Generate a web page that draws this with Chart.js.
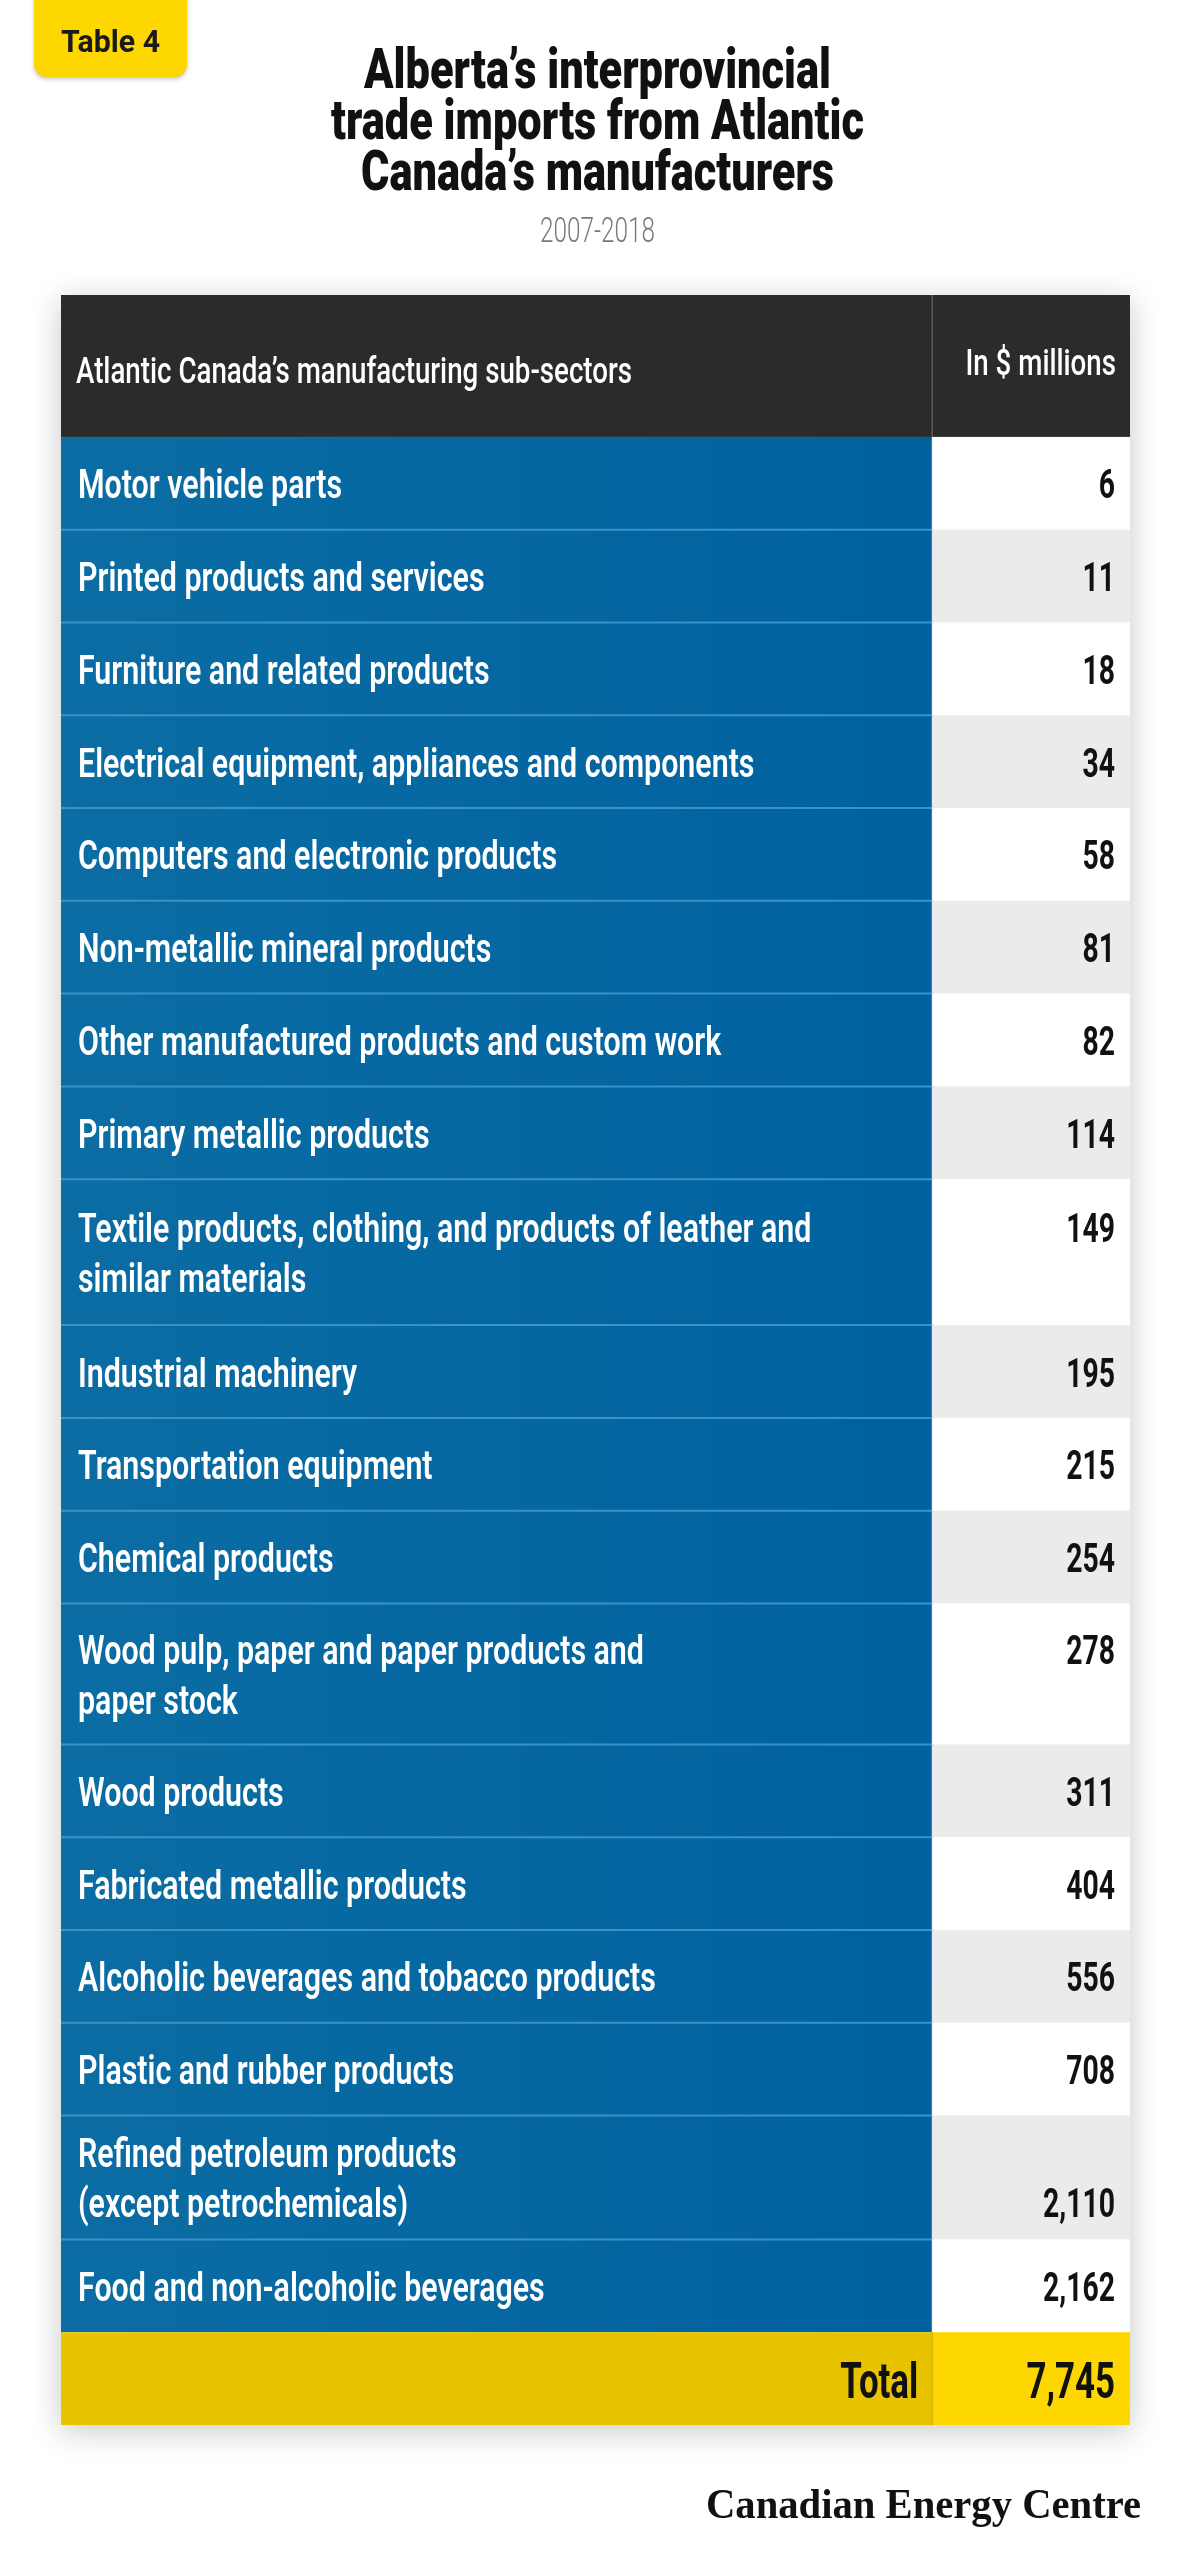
<!DOCTYPE html>
<html>
<head>
<meta charset="utf-8">
<script src="https://cdn.jsdelivr.net/npm/chart.js@4.4.1/dist/chart.umd.min.js"></script>
<style>
  html, body { margin: 0; padding: 0; background: #fff; }
  #wrap { width: 1189px; height: 2560px; position: relative; }
</style>
</head>
<body>
<div id="wrap"><canvas id="tableChart"></canvas></div>
<script>
const tagText = 'Table 4';
const titleLines = ['Alberta’s interprovincial', 'trade imports from Atlantic', 'Canada’s manufacturers'];
const period = '2007-2018';
const columnHeads = ['Atlantic Canada’s manufacturing sub-sectors', 'In $ millions'];
const sectors = [
    'Motor vehicle parts',
    'Printed products and services',
    'Furniture and related products',
    'Electrical equipment, appliances and components',
    'Computers and electronic products',
    'Non-metallic mineral products',
    'Other manufactured products and custom work',
    'Primary metallic products',
    'Textile products, clothing, and products of leather and\nsimilar materials',
    'Industrial machinery',
    'Transportation equipment',
    'Chemical products',
    'Wood pulp, paper and paper products and\npaper stock',
    'Wood products',
    'Fabricated metallic products',
    'Alcoholic beverages and tobacco products',
    'Plastic and rubber products',
    'Refined petroleum products\n(except petrochemicals)',
    'Food and non-alcoholic beverages'
];
const importsMillions = [6, 11, 18, 34, 58, 81, 82, 114, 149, 195, 215, 254, 278, 311, 404, 556, 708, 2110, 2162];
const totalLabel = 'Total';
const totalMillions = 7745;
const sourceName = 'Canadian Energy Centre';

// --- layout (row heights in units of one single-line row) ---
const headSpan = 1.53;
const totalSpan = 1;
const rowSpan = [1, 1, 1, 1, 1, 1, 1, 1, 1.573, 1, 1, 1, 1.519, 1, 1, 1, 1, 1.336, 1];
const valueOnLastLine = sectors.map(s => s.startsWith('Refined'));
const splitAt = 0.815;
const lineGap = 50;

const spanSum = headSpan + rowSpan.reduce((a, b) => a + b, 0) + totalSpan;

function squeeze(ctx, text, x, y, font, sx, align, color) {
    ctx.save();
    ctx.font = font;
    ctx.fillStyle = color;
    ctx.textAlign = align;
    ctx.textBaseline = 'alphabetic';
    ctx.translate(x, y);
    ctx.scale(sx, 1);
    ctx.fillText(text, 0, 0);
    ctx.restore();
}

function fitTo(ctx, font, sample, width) {
    ctx.save();
    ctx.font = font;
    let w = ctx.measureText(sample).width;
    ctx.restore();
    return width / w;
}

const fmt = v => v.toLocaleString('en-US');

const tablePlugin = {
    id: 'tablePlugin',
    afterDraw(chart) {
        const ctx = chart.ctx;
        const xs = chart.scales.x, ys = chart.scales.y;
        const L = xs.getPixelForValue(0), D = xs.getPixelForValue(splitAt), R = xs.getPixelForValue(1);
        const py = v => ys.getPixelForValue(v);
        const cw = chart.width;

        const fTag = '700 31px Roboto';
        const fTitle = '900 55px Roboto';
        const fSub = '300 35px Roboto';
        const fHead = '500 36px Roboto';
        const fLabel = '600 40px Roboto';
        const fValue = '700 40px Roboto';
        const fTotal = '700 50px Roboto';
        const fLogo = '700 43px "Liberation Serif"';

        const sTag = fitTo(ctx, fTag, tagText, 99);
        const sTitle = fitTo(ctx, fTitle, titleLines[0], 467);
        const sSub = fitTo(ctx, fSub, period, 115);
        const sHead = fitTo(ctx, fHead, columnHeads[0], 556);
        const sLabel = fitTo(ctx, fLabel, sectors[0], 264);
        const sValue = fitTo(ctx, fValue, fmt(2162), 72);
        const sTotal = fitTo(ctx, fTotal, totalLabel, 78);
        const sLogo = fitTo(ctx, fLogo, sourceName, 435);

        // tag
        ctx.save();
        ctx.shadowColor = 'rgba(0,0,0,0.25)';
        ctx.shadowBlur = 4;
        ctx.shadowOffsetY = 2;
        ctx.fillStyle = '#ffd700';
        ctx.beginPath();
        ctx.roundRect(34, -20, 153, 97, 13);
        ctx.fill();
        ctx.restore();
        squeeze(ctx, tagText, 110.5, 52, fTag, sTag, 'center', '#1a1a1a');

        // title + period
        titleLines.forEach((t, i) => {
            squeeze(ctx, t, cw / 2 + 3, 88 + i * 51, fTitle, sTitle, 'center', '#111');
        });
        squeeze(ctx, period, cw / 2 + 3, 242, fSub, sSub, 'center', '#7a7a7a');

        // table body with shadow
        const top = py(0), bottom = py(spanSum);
        ctx.save();
        ctx.shadowColor = 'rgba(0,0,0,0.22)';
        ctx.shadowBlur = 30;
        ctx.shadowOffsetY = 6;
        ctx.fillStyle = '#fff';
        ctx.fillRect(L, top, R - L, bottom - top);
        ctx.restore();

        // header
        const hb = py(headSpan);
        ctx.fillStyle = '#2b2b2b';
        ctx.fillRect(L, top, R - L, hb - top);
        ctx.strokeStyle = '#5c5c5c';
        ctx.lineWidth = 1.5;
        ctx.beginPath();
        ctx.moveTo(D, top);
        ctx.lineTo(D, hb);
        ctx.stroke();
        squeeze(ctx, columnHeads[0], L + 15, top + (hb - top) * 0.62, fHead, sHead, 'left', '#fff');
        squeeze(ctx, columnHeads[1], R - 14, top + (hb - top) * 0.565, fHead, sHead, 'right', '#fff');

        // body rows
        const blue = ctx.createLinearGradient(L, 0, D, 0);
        blue.addColorStop(0, '#0b6da3');
        blue.addColorStop(1, '#0061a0');
        let u = headSpan;
        const edges = [];
        sectors.forEach((label, i) => {
            const y0 = py(u), y1 = py(u + rowSpan[i]);
            edges.push(y0);
            ctx.fillStyle = blue;
            ctx.fillRect(L, y0, D - L, y1 - y0);
            ctx.fillStyle = i % 2 === 0 ? '#ffffff' : '#ebebeb';
            ctx.fillRect(D, y0, R - D, y1 - y0);

            const lines = label.split('\n');
            const mid = (y0 + y1) / 2;
            const first = mid - (lines.length - 1) * lineGap / 2 + 15;
            lines.forEach((ln, k) => {
                squeeze(ctx, ln, L + 17, first + k * lineGap, fLabel, sLabel, 'left', '#fff');
            });
            const vy = valueOnLastLine[i] ? first + (lines.length - 1) * lineGap : first;
            squeeze(ctx, fmt(importsMillions[i]), R - 15, vy, fValue, sValue, 'right', '#111');
            u += rowSpan[i];
        });

        // blue row separators
        ctx.strokeStyle = '#3a92c9';
        ctx.lineWidth = 2;
        edges.slice(1).forEach(e => {
            ctx.beginPath();
            ctx.moveTo(L, e);
            ctx.lineTo(D, e);
            ctx.stroke();
        });
        ctx.strokeStyle = 'rgba(255,255,255,0.25)';
        ctx.lineWidth = 1;
        ctx.beginPath();
        ctx.moveTo(D - 0.5, hb);
        ctx.lineTo(D - 0.5, py(u));
        ctx.stroke();

        // total row
        const t0 = py(u), t1 = py(u + totalSpan);
        ctx.fillStyle = '#e8c300';
        ctx.fillRect(L, t0, D - L, t1 - t0);
        ctx.fillStyle = '#ffd700';
        ctx.fillRect(D, t0, R - D, t1 - t0);
        ctx.strokeStyle = '#c9a900';
        ctx.lineWidth = 1;
        ctx.beginPath();
        ctx.moveTo(D, t0);
        ctx.lineTo(D, t1);
        ctx.stroke();
        const tm = (t0 + t1) / 2 + 19;
        squeeze(ctx, totalLabel, D - 14, tm, fTotal, sTotal, 'right', '#111');
        squeeze(ctx, fmt(totalMillions), R - 15, tm, fTotal, sTotal, 'right', '#111');

        // source mark
        squeeze(ctx, sourceName, R + 11, bottom + 93, fLogo, sLogo, 'right', '#111');
    }
};

new Chart(document.getElementById('tableChart'), {
    type: 'bar',
    data: { labels: [], datasets: [] },
    options: {
        responsive: true,
        maintainAspectRatio: false,
        animation: false,
        layout: { padding: { left: 61, right: 59, top: 295, bottom: 135 } },
        plugins: { legend: { display: false }, tooltip: { enabled: false } },
        scales: {
            x: { type: 'linear', min: 0, max: 1, offset: false, display: false },
            y: { type: 'linear', min: 0, max: spanSum, offset: false, reverse: true, display: false }
        }
    },
    plugins: [tablePlugin]
});
</script>
</body>
</html>
